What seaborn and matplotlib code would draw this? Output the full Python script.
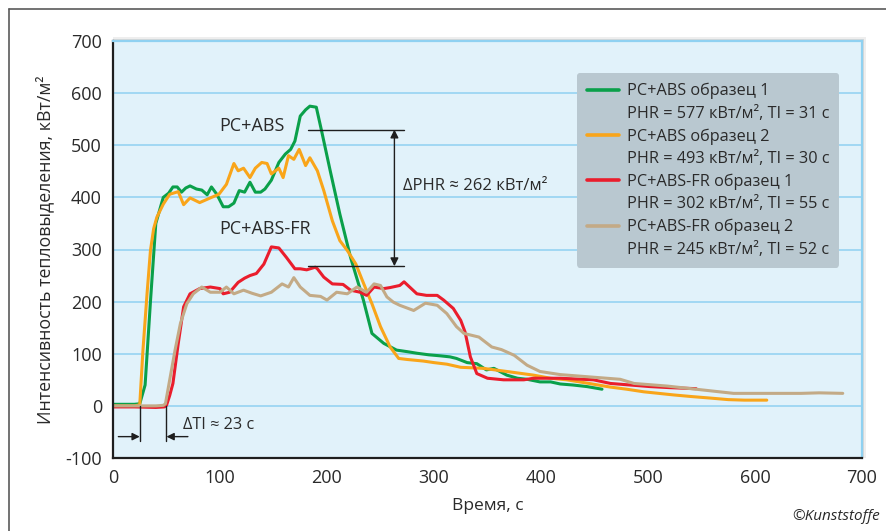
import matplotlib
matplotlib.use("Agg")
import matplotlib.pyplot as plt
import pandas as pd
import seaborn as sns
from matplotlib.lines import Line2D
from matplotlib.patches import Rectangle

# ---- data ----
green_t = [0, 10, 20, 25, 30, 35, 40, 47, 52, 56, 60, 64, 68, 72, 78, 83, 88, 92, 97, 103,
           108, 113, 118, 123, 128, 133, 138, 142, 148, 155, 161, 166, 170, 175, 180, 184,
           190, 195, 203, 212, 222, 234, 242, 253, 265, 275, 284, 295, 306, 315, 321, 331,
           340, 349, 356, 368, 378, 387, 399, 409, 418, 430, 443, 457]
green_q = [3, 3, 3, 4, 40, 200, 350, 400, 408, 420, 420, 410, 418, 422, 416, 414, 405, 420,
           406, 382, 382, 389, 413, 410, 429, 410, 410, 416, 433, 467, 483, 492, 508, 556,
           568, 575, 573, 527, 451, 368, 285, 203, 139, 120, 107, 104, 101, 98, 96, 94, 91,
           83, 81, 69, 72, 59, 53, 51, 46, 46, 42, 40, 37, 32]

orange_t = [0, 10, 20, 25, 28, 32, 35, 38, 41, 47, 53, 61, 66, 72, 81, 91, 99, 106, 113,
            117, 122, 128, 133, 139, 144, 148, 155, 159, 164, 169, 174, 180, 184, 191, 197,
            205, 212, 219, 227, 233, 242, 250, 259, 267, 275, 290, 300, 312, 325, 346, 368,
            393, 409, 424, 445, 465, 480, 496, 510, 524, 540, 558, 575, 590, 611]
orange_q = [0, 0, 0, 2, 107, 220, 298, 340, 362, 387, 406, 411, 386, 399, 390, 399, 406, 425,
            465, 451, 456, 438, 456, 467, 465, 445, 456, 438, 480, 473, 492, 461, 476, 451,
            413, 355, 317, 298, 272, 241, 196, 152, 113, 91, 89, 86, 83, 80, 74, 72, 66, 59,
            53, 50, 43, 36, 32, 27, 24, 21, 18, 15, 12, 11, 11]

red_t = [0, 20, 40, 48, 50, 53, 56, 61, 66, 72, 81, 91, 100, 103, 109, 117, 123, 128, 134,
         141, 148, 155, 162, 170, 175, 181, 189, 191, 197, 205, 215, 222, 231, 237, 244,
         253, 259, 268, 272, 284, 293, 303, 309, 318, 325, 329, 334, 340, 350, 365, 384,
         393, 418, 449, 465, 502, 520, 545]
red_q = [-2, -2, -3, -2, 1, 20, 43, 120, 190, 215, 225, 228, 225, 215, 218, 237, 245, 250,
         254, 272, 305, 303, 285, 263, 263, 261, 266, 263, 247, 234, 233, 222, 218, 212,
         228, 225, 227, 231, 238, 215, 212, 212, 203, 187, 164, 142, 94, 62, 53, 50, 50,
         53, 53, 50, 43, 37, 35, 33]

tan_t = [0, 20, 40, 47, 49, 53, 58, 63, 69, 75, 83, 91, 100, 106, 113, 122, 130, 138, 148,
         158, 164, 169, 175, 184, 194, 200, 209, 219, 228, 237, 244, 250, 256, 262, 268,
         281, 292, 303, 312, 321, 328, 334, 342, 354, 363, 375, 387, 399, 418, 449, 474,
         487, 518, 549, 580, 611, 643, 660, 682]
tan_q = [0, 0, 0, 1, 4, 50, 107, 158, 196, 215, 228, 218, 218, 228, 215, 222, 216, 211, 218,
         234, 228, 246, 228, 212, 210, 203, 218, 215, 228, 218, 234, 231, 209, 199, 193,
         183, 197, 193, 177, 152, 139, 136, 132, 113, 108, 97, 78, 66, 60, 55, 51, 43, 38,
         31, 24, 24, 24, 25, 24]

series_names = ["PC+ABS образец 1", "PC+ABS образец 2",
                "PC+ABS-FR образец 1", "PC+ABS-FR образец 2"]
series_info = ["PHR = 577 кВт/м², TI = 31 с", "PHR = 493 кВт/м², TI = 30 с",
               "PHR = 302 кВт/м², TI = 55 с", "PHR = 245 кВт/м², TI = 52 с"]
series_colors = ["#0aa04a", "#f9a51a", "#ea1d2c", "#c3aa86"]

x_ticks = [0, 100, 200, 300, 400, 500, 600, 700]
y_ticks = [-100, 0, 100, 200, 300, 400, 500, 600, 700]

phr_top, phr_bottom = 530, 268
ti_left, ti_right = 25, 50

# ---- styling ----
sns.set_theme(style="white")
plt.rcParams["font.family"] = ["Open Sans", "DejaVu Sans"]
plt.rcParams["axes.unicode_minus"] = False
text_color = "#2a2a2a"
grid_color = "#8fd1f1"

frames = []
for name, t, q in zip(series_names, [green_t, orange_t, red_t, tan_t],
                      [green_q, orange_q, red_q, tan_q]):
    frames.append(pd.DataFrame({"t": t, "q": q, "series": name}))
df = pd.concat(frames, ignore_index=True)

fig = plt.figure(figsize=(8.87, 5.31), dpi=100)
ax = fig.add_axes([113 / 887, 1 - 458 / 531, 749 / 887, 417 / 531])
ax.set_facecolor("#e1f2fa")

# soft shadow behind the plot area
for off, a in [(4, 0.10), (2.5, 0.15), (1.2, 0.2)]:
    fig.add_artist(Rectangle((113 / 887, 1 - 458 / 531),
                             (749 + off) / 887, (417 + off) / 531,
                             transform=fig.transFigure, color="#606060", alpha=a,
                             zorder=-5, lw=0))

ax.yaxis.grid(True, color=grid_color, lw=1.1)
ax.xaxis.grid(False)
ax.set_axisbelow(True)

palette = dict(zip(series_names, series_colors))
sns.lineplot(data=df, x="t", y="q", hue="series", palette=palette, sort=False,
             estimator=None, lw=2.2, legend=False, ax=ax)

ax.set_xlim(0, 700)
ax.set_ylim(-100, 700)
ax.set_xticks(x_ticks)
ax.set_yticks(y_ticks)
ax.tick_params(axis="x", direction="in", length=5, width=1.3, color=grid_color,
               labelsize=13, labelcolor=text_color, pad=8)
ax.tick_params(axis="y", length=0, labelsize=13, labelcolor=text_color, pad=8)

for s in ["left", "bottom"]:
    ax.spines[s].set_color("#1e1e1e")
    ax.spines[s].set_linewidth(1.6)
for s in ["top", "right"]:
    ax.spines[s].set_color(grid_color)
    ax.spines[s].set_linewidth(1.6)

ax.set_xlabel("Время, с", fontsize=12.5, color=text_color, labelpad=8)
ax.set_ylabel("Интенсивность тепловыделения, кВт/м²", fontsize=12.8,
              color=text_color, labelpad=8)

# legend: line handle on the first line of each entry, blank handle on the second
handles, labels = [], []
blank = Line2D([], [], color="none")
for name, info, c in zip(series_names, series_info, series_colors):
    handles += [Line2D([], [], color=c, lw=2.6), blank]
    labels += [name, info]
leg = ax.legend(handles, labels, loc="upper left", bbox_to_anchor=(0.6195, 0.923),
                borderaxespad=0, fontsize=11.7, labelspacing=0.4, handlelength=2.0,
                handletextpad=0.45, borderpad=0.6, frameon=True, fancybox=True,
                framealpha=1, facecolor="#b9c8d0", edgecolor="none")
for txt in leg.get_texts():
    txt.set_color(text_color)

# ΔPHR annotation
line_kw = dict(color="#1e1e1e", lw=1.0)
ax.plot([182, 272], [phr_top, phr_top], **line_kw)
ax.plot([182, 272], [phr_bottom, phr_bottom], **line_kw)
ax.annotate("", xy=(263, phr_top), xytext=(263, phr_bottom),
            arrowprops=dict(arrowstyle="<|-|>", color="#1e1e1e", lw=1.0,
                            mutation_scale=12, shrinkA=0, shrinkB=0))
ax.text(271, 422, "ΔPHR ≈ 262 кВт/м²", fontsize=12, color=text_color,
        va="center", ha="left")
ax.text(130, 537, "PC+ABS", fontsize=13, color=text_color, ha="center", va="center")
ax.text(142, 340, "PC+ABS-FR", fontsize=13, color=text_color, ha="center", va="center")

# ΔTI annotation
ax.plot([ti_left, ti_left], [0, -68], **line_kw)
ax.plot([ti_right, ti_right], [0, -68], **line_kw)
ax.annotate("", xy=(ti_left, -59), xytext=(5, -59),
            arrowprops=dict(arrowstyle="-|>", color="#1e1e1e", lw=1.0,
                            mutation_scale=11, shrinkA=0, shrinkB=0))
ax.annotate("", xy=(ti_right, -59), xytext=(70, -59),
            arrowprops=dict(arrowstyle="-|>", color="#1e1e1e", lw=1.0,
                            mutation_scale=11, shrinkA=0, shrinkB=0))
ax.text(65, -36, "ΔTI ≈ 23 с", fontsize=11.7, color=text_color, va="center", ha="left")

# outer frame (top and left edges) and credit
fig.add_artist(Line2D([9 / 887, 1], [1 - 9 / 531] * 2, transform=fig.transFigure,
                      color="#5a5a5a", lw=1.2))
fig.add_artist(Line2D([9 / 887] * 2, [0, 1 - 9 / 531], transform=fig.transFigure,
                      color="#5a5a5a", lw=1.2))
fig.text(880 / 887, 1 - 516 / 531, "©Kunststoffe", fontsize=11, style="italic",
         color=text_color, ha="right", va="center")

fig.savefig("out.png", dpi=100)
